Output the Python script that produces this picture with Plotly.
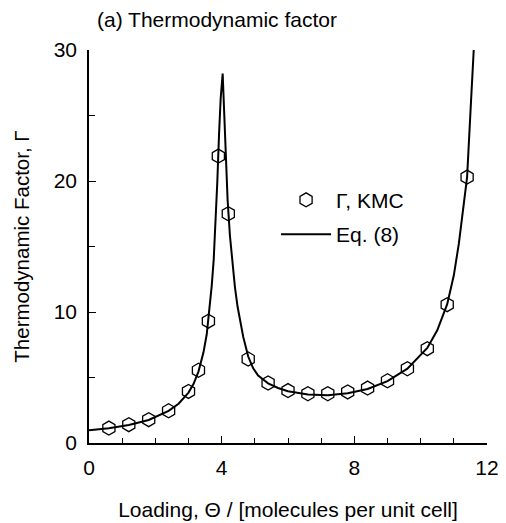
import plotly.graph_objects as go

# KMC data points (Gamma vs loading)
kmc_x = [0.6, 1.2, 1.8, 2.4, 3.0, 3.3, 3.6, 3.9, 4.2, 4.8, 5.4, 6.0, 6.6, 7.2, 7.8, 8.4, 9.0, 9.6, 10.2, 10.8, 11.4]
kmc_y = [1.14, 1.40, 1.78, 2.46, 3.94, 5.55, 9.3, 21.9, 17.5, 6.41, 4.58, 4.0, 3.76, 3.76, 3.9, 4.19, 4.75, 5.67, 7.2, 10.56, 20.3]

# Eq. (8) curve
eq_x = [0.0, 0.6, 1.2, 1.8, 2.4, 2.7, 3.0, 3.15, 3.3, 3.45, 3.55, 3.62, 3.7, 3.76, 3.82, 3.87, 3.92, 3.97, 4.03,
        4.08, 4.13, 4.18, 4.25, 4.32, 4.4, 4.48, 4.56, 4.65, 4.8, 4.95, 5.1, 5.4, 5.7, 6.0, 6.6, 7.2, 7.8, 8.4,
        9.0, 9.6, 10.2, 10.5, 10.8, 11.0, 11.15, 11.3, 11.4, 11.51, 11.6]
eq_y = [0.97, 1.12, 1.38, 1.76, 2.45, 3.0, 3.85, 4.5, 5.45, 6.9, 8.3, 9.8, 12.0, 14.0, 16.8, 20.0, 23.5, 26.3, 28.2,
        25.0, 21.5, 18.5, 15.8, 13.8, 11.9, 10.4, 9.2, 8.1, 6.6, 5.7, 5.15, 4.55, 4.2, 3.95, 3.7, 3.65, 3.8, 4.12,
        4.72, 5.67, 7.25, 8.6, 10.6, 12.8, 15.2, 18.2, 20.3, 25.7, 30.0]

x_ticks = [0, 4, 8, 12]
y_ticks = [0, 10, 20, 30]

FONT = "Liberation Sans, Arial, sans-serif"

fig = go.Figure()
fig.add_trace(go.Scatter(
    x=kmc_x, y=kmc_y, mode="markers", name="Γ, KMC", legendgroup="a",
    marker=dict(symbol="hexagon-open", size=14, color="black", line=dict(width=1.3, color="black")),
))
fig.add_trace(go.Scatter(
    x=eq_x, y=eq_y, mode="lines", name="Eq. (8)", legendgroup="b",
    line=dict(color="black", width=2),
))

# page body adds an 8px offset, so the figure is 8px smaller and margins shifted
fig.update_layout(
    width=498, height=515,
    margin=dict(l=81, r=19, t=42, b=80),
    paper_bgcolor="white", plot_bgcolor="white",
    font=dict(family=FONT, size=21, color="black"),
    title=dict(text="(a) Thermodynamic factor", xref="paper", x=0.02, xanchor="left",
               yref="container", y=1 - 12 / 515, yanchor="middle",
               font=dict(family=FONT, size=21, color="black")),
    showlegend=True,
    legend=dict(x=0.47, y=0.67, xanchor="left", yanchor="top", bgcolor="rgba(0,0,0,0)",
                font=dict(family=FONT, size=21, color="black"), itemwidth=50, tracegroupgap=4,
                traceorder="grouped"),
)
fig.update_xaxes(
    range=[0, 12], tickvals=x_ticks, ticktext=[str(v) for v in x_ticks],
    showline=True, linecolor="black", linewidth=1.5, showgrid=False, zeroline=False,
    ticks="inside", ticklen=7, tickwidth=1.2, tickcolor="black",
    minor=dict(dtick=1, ticks="inside", ticklen=5, tickwidth=1, tickcolor="black"),
    ticklabelstandoff=5, tickfont=dict(family=FONT, size=21, color="black"), automargin=False,
    title=dict(text="Loading, Θ / [molecules per unit cell]", standoff=24,
               font=dict(family=FONT, size=21, color="black")),
)
fig.update_yaxes(
    range=[0, 30], tickvals=y_ticks, ticktext=[str(v) for v in y_ticks],
    showline=True, linecolor="black", linewidth=1.5, showgrid=False, zeroline=False,
    ticks="inside", ticklen=7, tickwidth=1.2, tickcolor="black",
    minor=dict(dtick=5, ticks="inside", ticklen=6, tickwidth=1, tickcolor="black"),
    ticklabelstandoff=6, tickfont=dict(family=FONT, size=21, color="black"), automargin=False,
    title=dict(text="Thermodynamic Factor, Γ", standoff=19,
               font=dict(family=FONT, size=20.5, color="black")),
)

fig.write_html("out.html")
